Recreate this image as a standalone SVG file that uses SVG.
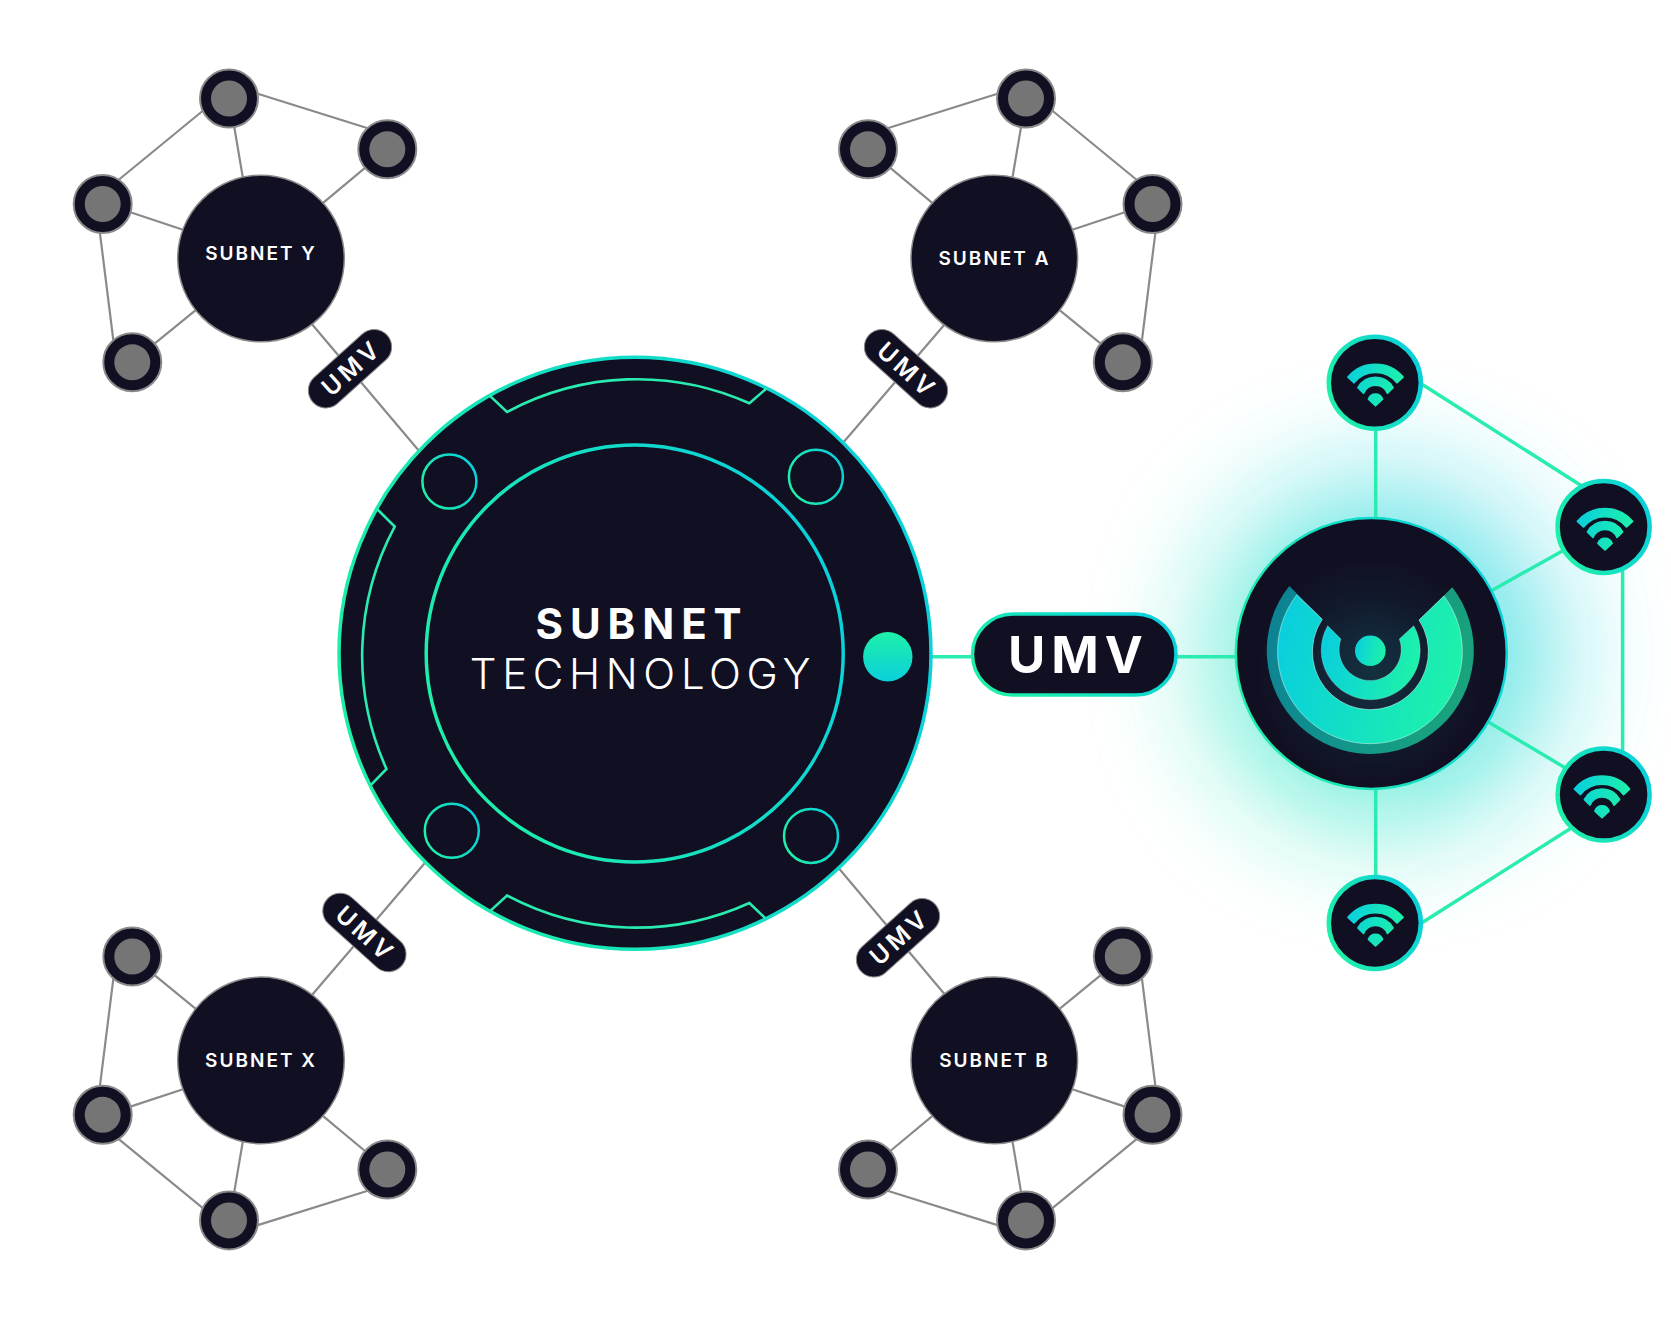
<svg xmlns="http://www.w3.org/2000/svg" xmlns:xlink="http://www.w3.org/1999/xlink" width="1671" height="1320" viewBox="0 0 1671 1320">
<style>
text{font-family:Inter,"Liberation Sans",sans-serif;fill:#fff}
.g{stroke:#8a8a8a;stroke-width:2.200;fill:none}
.t{stroke:#2aecb0;stroke-width:3.500;fill:none}
.sub{fill:#110f22;stroke:#8a8a8a;stroke-width:1.500}
.sn{fill:#110f22;stroke:#8a8a8a;stroke-width:2}
.si{fill:#757575}
.sl{font-size:19px;font-weight:600;letter-spacing:2px;text-anchor:middle}
.pl{fill:#110f22;stroke:#8a8a8a;stroke-width:1}
.pt{font-size:24.500px;font-weight:600;letter-spacing:4px;text-anchor:middle}
.line{fill:none;stroke:url(#gl);stroke-width:3.500}
.wn{fill:#110f22;stroke:url(#gl);stroke-width:4.500}
.ring{fill:none;stroke:url(#gl);stroke-width:2.500}
.arc{fill:none;stroke:#2aecb0;stroke-width:2.600}
</style>
<defs>
<linearGradient id="gl" x1="0" y1="0.7" x2="1" y2="0.3"><stop offset="0" stop-color="#1ff0a8"/><stop offset="1" stop-color="#09d0dc"/></linearGradient>
<linearGradient id="gb" x1="1" y1="0.35" x2="0" y2="0.65"><stop offset="0" stop-color="#0ad0dc"/><stop offset="1" stop-color="#1ef0a6"/></linearGradient>
<linearGradient id="gi" x1="0" y1="0.4" x2="1" y2="0.6"><stop offset="0" stop-color="#0acfdc"/><stop offset="1" stop-color="#1ef3a8"/></linearGradient>
<linearGradient id="gd" x1="0.5" y1="0" x2="0.5" y2="1"><stop offset="0" stop-color="#1ff0a8"/><stop offset="1" stop-color="#0ad0dc"/></linearGradient>
<linearGradient id="gback" x1="0" y1="0.4" x2="1" y2="0.6"><stop offset="0" stop-color="#0acfdc" stop-opacity=".6"/><stop offset="1" stop-color="#1ef3a8" stop-opacity=".65"/></linearGradient>
<linearGradient id="gw" x1="0" y1="0.3" x2="1" y2="0.5"><stop offset="0" stop-color="#0acfdc"/><stop offset="1" stop-color="#1ef3a8"/></linearGradient>
<linearGradient id="gglow" x1="0" y1="1" x2="1" y2="0"><stop offset="0" stop-color="#1ff0b0"/><stop offset="1" stop-color="#12c8ec"/></linearGradient>
<radialGradient id="ghub" gradientUnits="userSpaceOnUse" cx="1371" cy="672" r="118"><stop offset="0" stop-color="#14303f"/><stop offset=".3" stop-color="#13283a"/><stop offset=".62" stop-color="#111a2c"/><stop offset="1" stop-color="#110f22"/></radialGradient>
<filter id="blur" x="-100%" y="-100%" width="300%" height="300%"><feGaussianBlur stdDeviation="60"/></filter>
<g id="wifi">
<path fill="url(#gw)" stroke="url(#gw)" stroke-width="1.800" stroke-linejoin="round" d="M-27.500-5.500A36 36 0 0 1 27.500-5.500L21.500 0A27.600 27.600 0 0 0-21.500 0ZM-17.500 5A20 20 0 0 1 17.500 5L12 10.500A12.900 12.900 0 0 0-12 10.500ZM-7 16.500A7.400 7.400 0 0 1 7 16.500L0 23Z"/>
</g>
</defs>
<rect width="1671" height="1320" fill="#fff"/>
<circle id="glow" cx="1382" cy="654" r="172" fill="url(#gglow)" opacity=".64" filter="url(#blur)"/>
<g id="connectors">
<path class="g" d="M205 109L116 182M255.400 93L371 129.200M233.800 124.300L243.200 179.700M365.600 167.400L321 204.600M128.900 211.800L184.500 230.200M99.600 230.300L113.700 343M152.700 345.200L197.300 308.800"/>
<path class="g" d="M1050.300 109L1139.300 182M999.900 93L884.300 129.200M1021.500 124.300L1012.100 179.700M889.700 167.400L934.300 204.600M1126.400 211.800L1070.800 230.200M1155.700 230.300L1141.600 343M1102.600 345.200L1058 308.800"/>
<path class="g" d="M205 1209.900L116 1136.900M255.400 1225.900L371 1189.700M233.800 1194.600L243.200 1139.200M365.600 1151.500L321 1114.300M128.900 1107.100L184.500 1088.700M99.600 1088.600L113.700 975.900M152.700 973.700L197.300 1010.100"/>
<path class="g" d="M1050.300 1209.900L1139.300 1136.900M999.900 1225.900L884.300 1189.700M1021.500 1194.600L1012.100 1139.200M889.700 1151.500L934.300 1114.300M1126.400 1107.100L1070.800 1088.700M1155.700 1088.600L1141.600 975.900M1102.600 973.700L1058 1010.100"/>
<path class="g" d="M300 310L425 458M957 310L830 458M300 1009L436 850M957 1009L826 853"/>
<path class="t" d="M1375.700 382V923M1420 383L1585 488M1566 549L1490 591.500M1622.600 570V755M1485 720L1568 769.500M1572 827.500L1420 924M929 656.700H1240"/>
</g>
<g id="subnet-y"><circle class="sub" cx="261" cy="258.500" r="83.300"/><text class="sl" x="261" y="260">SUBNET Y</text></g>
<g id="subnet-a"><circle class="sub" cx="994.300" cy="258.500" r="83.300"/><text class="sl" x="994.500" y="265">SUBNET A</text></g>
<g id="subnet-x"><circle class="sub" cx="261" cy="1060.400" r="83.300"/><text class="sl" x="261" y="1067">SUBNET X</text></g>
<g id="subnet-b"><circle class="sub" cx="994.300" cy="1060.400" r="83.300"/><text class="sl" x="994.500" y="1067">SUBNET B</text></g>
<g id="y-nodes">
<g id="y1"><circle class="sn" cx="229" cy="98.500" r="29"/><circle class="si" cx="229" cy="98.500" r="18"/></g>
<g id="y2"><circle class="sn" cx="387.300" cy="149.300" r="29"/><circle class="si" cx="387.300" cy="149.300" r="18"/></g>
<g id="y3"><circle class="sn" cx="102.700" cy="204" r="29"/><circle class="si" cx="102.700" cy="204" r="18"/></g>
<g id="y4"><circle class="sn" cx="132.300" cy="362.300" r="29"/><circle class="si" cx="132.300" cy="362.300" r="18"/></g>
</g>
<g id="a-nodes">
<g id="a1"><circle class="sn" cx="1026" cy="98.500" r="29"/><circle class="si" cx="1026" cy="98.500" r="18"/></g>
<g id="a2"><circle class="sn" cx="868" cy="149.300" r="29"/><circle class="si" cx="868" cy="149.300" r="18"/></g>
<g id="a3"><circle class="sn" cx="1152.500" cy="204" r="29"/><circle class="si" cx="1152.500" cy="204" r="18"/></g>
<g id="a4"><circle class="sn" cx="1122.800" cy="362.300" r="29"/><circle class="si" cx="1122.800" cy="362.300" r="18"/></g>
</g>
<g id="x-nodes">
<g id="x1"><circle class="sn" cx="229" cy="1220.400" r="29"/><circle class="si" cx="229" cy="1220.400" r="18"/></g>
<g id="x2"><circle class="sn" cx="387.300" cy="1169.500" r="29"/><circle class="si" cx="387.300" cy="1169.500" r="18"/></g>
<g id="x3"><circle class="sn" cx="102.700" cy="1114.800" r="29"/><circle class="si" cx="102.700" cy="1114.800" r="18"/></g>
<g id="x4"><circle class="sn" cx="132.300" cy="956.500" r="29"/><circle class="si" cx="132.300" cy="956.500" r="18"/></g>
</g>
<g id="b-nodes">
<g id="b1"><circle class="sn" cx="1026" cy="1220.400" r="29"/><circle class="si" cx="1026" cy="1220.400" r="18"/></g>
<g id="b2"><circle class="sn" cx="868" cy="1169.500" r="29"/><circle class="si" cx="868" cy="1169.500" r="18"/></g>
<g id="b3"><circle class="sn" cx="1152.500" cy="1114.800" r="29"/><circle class="si" cx="1152.500" cy="1114.800" r="18"/></g>
<g id="b4"><circle class="sn" cx="1122.800" cy="956.500" r="29"/><circle class="si" cx="1122.800" cy="956.500" r="18"/></g>
</g>
<g id="pill-y" transform="translate(350 368.700) rotate(-42)"><rect class="pl" x="-50" y="-17.500" width="100" height="35" rx="17.500"/><text class="pt" x="2" y="9">UMV</text></g>
<g id="pill-a" transform="translate(906 368.700) rotate(42)"><rect class="pl" x="-50" y="-17.500" width="100" height="35" rx="17.500"/><text class="pt" x="2" y="9">UMV</text></g>
<g id="pill-x" transform="translate(364.400 932.500) rotate(42)"><rect class="pl" x="-50" y="-17.500" width="100" height="35" rx="17.500"/><text class="pt" x="2" y="9">UMV</text></g>
<g id="pill-b" transform="translate(898 937.800) rotate(-42)"><rect class="pl" x="-50" y="-17.500" width="100" height="35" rx="17.500"/><text class="pt" x="2" y="9">UMV</text></g>
<g id="main">
<circle cx="635" cy="653.300" r="296" fill="#110f22" stroke="url(#gb)" stroke-width="3.500"/>
<circle class="line" cx="634.700" cy="653.400" r="208.500"/>
<circle class="ring" cx="449.400" cy="481.600" r="27"/>
<circle class="ring" cx="815.900" cy="476.800" r="27"/>
<circle class="ring" cx="451.800" cy="830.700" r="27"/>
<circle class="ring" cx="811" cy="835.900" r="27"/>
<path class="arc" d="M489.400 395.400L507 412A274 274 0 0 1 749.400 403.300L767 388"/>
<path class="arc" d="M490.600 910.600L507 895.500A274 274 0 0 0 749.400 903L765 918"/>
<path class="arc" d="M377 509L394.700 526.600A274 274 0 0 0 386.500 769L371 784.800"/>
<circle cx="887.800" cy="656.700" r="24.700" fill="url(#gd)"/>
<text x="642" y="638.500" font-size="42" font-weight="700" letter-spacing="6.900" text-anchor="middle">SUBNET</text>
<text x="643" y="688.800" font-size="42" font-weight="300" letter-spacing="5.650" text-anchor="middle">TECHNOLOGY</text>
</g>
<g id="pill-main"><rect x="972.500" y="614" width="203.500" height="81" rx="40.500" fill="#110f22" stroke="url(#gl)" stroke-width="3.500"/><text x="1078.500" y="672.700" font-size="51" font-weight="700" letter-spacing="6" text-anchor="middle">UMV</text></g>
<g id="hub">
<circle cx="1371.300" cy="653.400" r="135.500" fill="url(#ghub)" stroke="url(#gl)" stroke-width="2.500"/>
<path fill="url(#gback)" d="M1289.300 586A103.500 103.500 0 1 0 1452.300 587.300L1419 620A58 58 0 1 1 1322.300 619.300Z"/>
<path fill="url(#gi)" stroke="#d8fff4" stroke-opacity=".7" stroke-width=".7" d="M1296.700 595A92.400 92.400 0 1 0 1444 596L1419 620A58 58 0 1 1 1322.300 619.300Z"/>
<path fill="url(#gi)" stroke="#d8fff4" stroke-opacity=".5" stroke-width=".5" d="M1327.700 625.700A49.500 49.500 0 1 0 1413.700 625.700L1399.300 639A31 31 0 1 1 1341 639Z"/>
<circle cx="1370.300" cy="650.700" r="15.300" fill="url(#gi)"/>
</g>
<g id="wifi-1"><circle class="wn" cx="1374.800" cy="382.700" r="46"/><use xlink:href="#wifi" href="#wifi" x="1375.500" y="382.700"/></g>
<g id="wifi-2"><circle class="wn" cx="1603.600" cy="526.900" r="46"/><use xlink:href="#wifi" href="#wifi" x="1605" y="526.900"/></g>
<g id="wifi-3"><circle class="wn" cx="1603.600" cy="794.500" r="46"/><use xlink:href="#wifi" href="#wifi" x="1602" y="794.500"/></g>
<g id="wifi-4"><circle class="wn" cx="1374.800" cy="922.900" r="46"/><use xlink:href="#wifi" href="#wifi" x="1375.500" y="922.900"/></g>
</svg>
